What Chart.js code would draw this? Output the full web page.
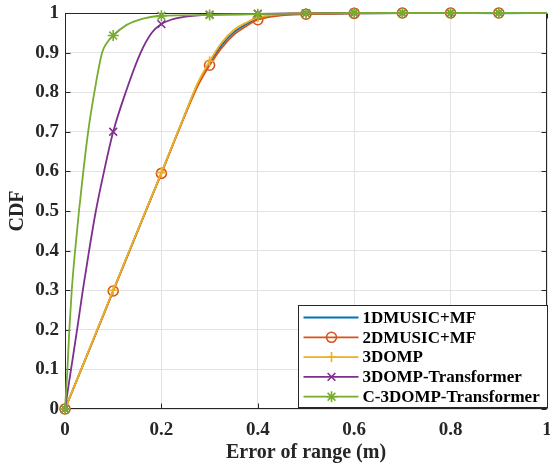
<!DOCTYPE html>
<html>
<head>
<meta charset="utf-8">
<title>CDF of range error</title>
<script src="https://cdn.jsdelivr.net/npm/chart.js@4.4.1/dist/chart.umd.min.js"></script>
<style>
  html, body { margin: 0; padding: 0; background: #fff; }
</style>
</head>
<body>
<canvas id="cdfChart" width="550" height="463"></canvas>
<script>
// series names, in legend order
const seriesLabels = ["1DMUSIC+MF", "2DMUSIC+MF", "3DOMP", "3DOMP-Transformer", "C-3DOMP-Transformer"];

// the three slow curves share one x grid
const musicX = [0, 0.05, 0.1, 0.15, 0.2, 0.25, 0.275, 0.3, 0.325, 0.35, 0.375, 0.4, 0.45, 0.5, 0.6, 0.7, 0.8, 0.9, 1];
const music1dY = [0, 0.149, 0.299, 0.448, 0.596, 0.747, 0.819, 0.873, 0.919, 0.951, 0.971, 0.986, 0.996, 0.998, 0.999, 1, 1, 0.999, 1];
const music2dY = [0, 0.148, 0.298, 0.447, 0.595, 0.745, 0.815, 0.868, 0.912, 0.945, 0.966, 0.983, 0.994, 0.997, 0.999, 1, 1, 1, 1];
const ompY = [0, 0.150, 0.300, 0.449, 0.597, 0.748, 0.822, 0.878, 0.925, 0.957, 0.975, 0.989, 0.997, 0.999, 1, 1, 1, 1, 1];

const ompTrX = [0, 0.0125, 0.025, 0.037, 0.05, 0.064, 0.081, 0.1, 0.126, 0.157, 0.18, 0.2, 0.22, 0.25, 0.3, 0.4, 0.5, 0.6, 0.7, 0.8, 0.9, 1];
const ompTrY = [0, 0.1, 0.2, 0.3, 0.4, 0.5, 0.6, 0.7, 0.8, 0.9, 0.95, 0.972, 0.983, 0.991, 0.996, 0.998, 0.999, 1, 1, 1, 1, 1];

const cOmpTrX = [0, 0.005, 0.009, 0.014, 0.021, 0.029, 0.038, 0.048, 0.061, 0.077, 0.086, 0.1, 0.128, 0.162, 0.2, 0.3, 0.4, 0.5, 0.6, 0.7, 0.8, 0.9, 1];
const cOmpTrY = [0, 0.1, 0.2, 0.3, 0.4, 0.5, 0.6, 0.7, 0.8, 0.9, 0.923, 0.943, 0.970, 0.986, 0.993, 0.995, 0.997, 0.999, 1, 1, 1, 1, 1];

// markers only sit on these x values
const markerX = [0, 0.1, 0.2, 0.3, 0.4, 0.5, 0.6, 0.7, 0.8, 0.9];

const xTicks = [0, 0.2, 0.4, 0.6, 0.8, 1];
const yTicks = [0, 0.1, 0.2, 0.3, 0.4, 0.5, 0.6, 0.7, 0.8, 0.9, 1];

const colors = ["#0072BD", "#D95319", "#EDB120", "#7E2F8E", "#77AC30"];
const styles = [false, "circle", "cross", "crossRot", "star"];
const radii = [0, 5, 5, 5.5, 5.5];

const AXIS = "#262626";
const FONT = "'Liberation Serif', 'Times New Roman', serif";

function toPoints(xs, ys) {
  return xs.map((x, i) => ({ x: x, y: ys[i] }));
}

function onMarker(x) {
  return markerX.some(m => Math.abs(m - x) < 1e-9);
}

const seriesData = [
  toPoints(musicX, music1dY),
  toPoints(musicX, music2dY),
  toPoints(musicX, ompY),
  toPoints(ompTrX, ompTrY),
  toPoints(cOmpTrX, cOmpTrY),
];

const datasets = seriesData.map((pts, i) => ({
  label: seriesLabels[i],
  data: pts,
  borderColor: colors[i],
  backgroundColor: colors[i],
  borderWidth: 1.8,
  pointStyle: styles[i] || "circle",
  pointBorderColor: colors[i],
  pointBackgroundColor: "rgba(0,0,0,0)",
  pointBorderWidth: 1.6,
  pointRadius: ctx => (styles[i] && ctx.raw && onMarker(ctx.raw.x)) ? radii[i] : 0,
  cubicInterpolationMode: "monotone",
  clip: false,
  order: 5 - i, // later series on top, like matlab
}));

// box round the axes plus inward tick marks
const axesBox = {
  id: "axesBox",
  beforeDatasetsDraw(chart) {
    const { ctx, chartArea: a, scales } = chart;
    const L = Math.round(a.left) + 0.5, R = Math.round(a.right) - 0.5;
    const T = Math.round(a.top) + 0.5, B = Math.round(a.bottom) - 0.5;
    ctx.save();
    ctx.strokeStyle = AXIS;
    ctx.lineWidth = 1;
    ctx.beginPath();
    xTicks.forEach(v => {
      const px = Math.round(scales.x.getPixelForValue(v)) + 0.5;
      ctx.moveTo(px, B); ctx.lineTo(px, B - 5);
      ctx.moveTo(px, T); ctx.lineTo(px, T + 5);
    });
    yTicks.forEach(v => {
      const py = Math.round(scales.y.getPixelForValue(v)) + 0.5;
      ctx.moveTo(L, py); ctx.lineTo(L + 5, py);
      ctx.moveTo(R, py); ctx.lineTo(R - 5, py);
    });
    ctx.stroke();
    ctx.strokeRect(L, T, R - L, B - T);
    ctx.restore();
  }
};

// matlab style legend, bottom right inside the axes
const boxLegend = {
  id: "boxLegend",
  afterDraw(chart) {
    const { ctx, chartArea: a } = chart;
    const w = 249, h = 102;
    const left = Math.round(a.right - w) + 0.5;
    const top = Math.round(a.bottom - 2 - h) + 0.5;
    ctx.save();
    ctx.fillStyle = "#fff";
    ctx.fillRect(left, top, w, h);
    ctx.strokeStyle = AXIS;
    ctx.lineWidth = 1;
    ctx.strokeRect(left, top, w, h);
    ctx.font = "bold 17px " + FONT;
    ctx.textBaseline = "middle";
    ctx.textAlign = "left";
    seriesLabels.forEach((name, i) => {
      const cy = top + 12 + i * 19.8;
      ctx.strokeStyle = colors[i];
      ctx.lineWidth = 1.8;
      ctx.beginPath();
      ctx.moveTo(left + 5, cy);
      ctx.lineTo(left + 60, cy);
      ctx.stroke();
      if (styles[i]) {
        ctx.fillStyle = "rgba(0,0,0,0)";
        ctx.lineWidth = 1.6;
        Chart.helpers.drawPoint(ctx, { pointStyle: styles[i], radius: radii[i], rotation: 0, borderWidth: 1.6 }, left + 33, cy);
      }
      ctx.fillStyle = "#000";
      ctx.fillText(name, left + 64, cy + 1);
    });
    ctx.restore();
  }
};

new Chart(document.getElementById("cdfChart"), {
  type: "line",
  data: { datasets: datasets },
  options: {
    responsive: false,
    animation: false,
    events: [],
    layout: { autoPadding: false, padding: { top: 13, right: 3, left: 0, bottom: 0 } },
    plugins: {
      legend: { display: false },
      tooltip: { enabled: false },
    },
    scales: {
      x: {
        type: "linear",
        min: 0,
        max: 1,
        afterBuildTicks: s => { s.ticks = xTicks.map(v => ({ value: v })); },
        afterFit: s => { s.height = 54; s.paddingLeft = 0; s.paddingRight = 0; },
        grid: { color: "#e3e3e3", drawTicks: false },
        border: { display: false },
        ticks: {
          padding: 10,
          color: AXIS,
          font: { family: FONT, size: 19, weight: "bold" },
          callback: v => String(Math.round(v * 10) / 10),
        },
        title: {
          display: true,
          text: "Error of range (m)",
          color: AXIS,
          padding: { top: 0, bottom: 0 },
          font: { family: FONT, size: 20, weight: "bold", lineHeight: 1 },
        },
      },
      y: {
        type: "linear",
        min: 0,
        max: 1,
        afterBuildTicks: s => { s.ticks = yTicks.map(v => ({ value: v })); },
        afterFit: s => { s.width = 65; s.paddingTop = 0; s.paddingBottom = 0; },
        grid: { color: "#e3e3e3", drawTicks: false },
        border: { display: false },
        ticks: {
          padding: 6,
          color: AXIS,
          font: { family: FONT, size: 19, weight: "bold" },
          callback: v => String(Math.round(v * 10) / 10),
        },
        title: {
          display: true,
          text: "CDF",
          color: AXIS,
          padding: { top: 6, bottom: 0 },
          font: { family: FONT, size: 20, weight: "bold", lineHeight: 1.2 },
        },
      },
    },
  },
  plugins: [axesBox, boxLegend],
});
</script>
</body>
</html>
